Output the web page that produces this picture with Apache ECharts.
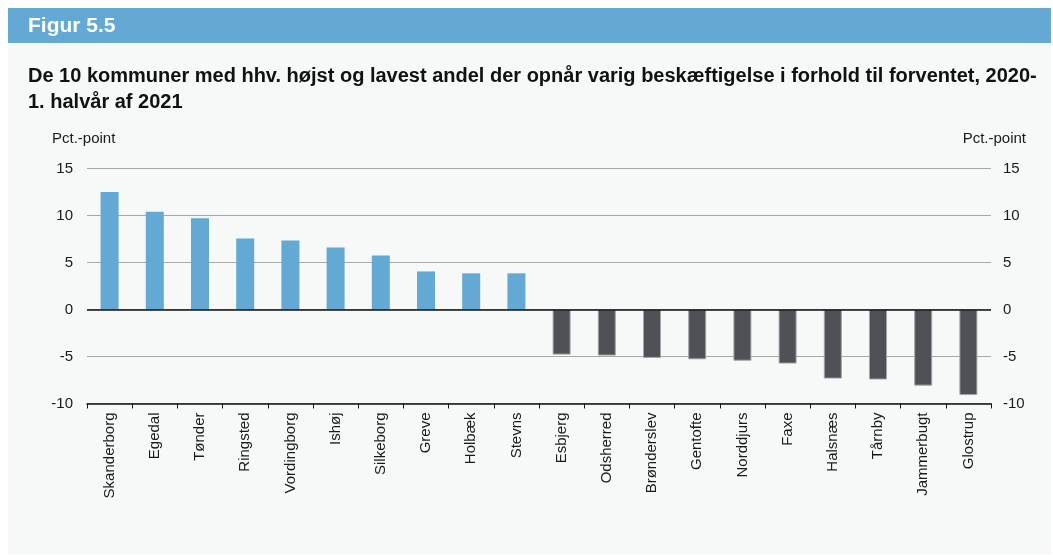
<!DOCTYPE html>
<html>
<head>
<meta charset="utf-8">
<script src="https://cdn.jsdelivr.net/npm/echarts@6/dist/echarts.min.js"></script>
<style>
html,body{margin:0;padding:0;background:#ffffff;}
#chart{width:1053px;height:555px;}
</style>
</head>
<body>
<div id="chart"></div>
<script>
var categories = ['Skanderborg','Egedal','Tønder','Ringsted','Vordingborg','Ishøj','Silkeborg','Greve','Holbæk','Stevns',
  'Esbjerg','Odsherred','Brønderslev','Gentofte','Norddjurs','Faxe','Halsnæs','Tårnby','Jammerbugt','Glostrup'];
var values = [12.5, 10.4, 9.7, 7.55, 7.35, 6.6, 5.75, 4.05, 3.85, 3.85,
  -4.8, -4.9, -5.15, -5.3, -5.45, -5.75, -7.35, -7.45, -8.1, -9.1];
var yTicks = [-10, -5, 0, 5, 10, 15];
var figureLabel = 'Figur 5.5';
var titleText = 'De 10 kommuner med hhv. højst og lavest andel der opnår varig beskæftigelse i forhold til forventet, 2020-\n1. halvår af 2021';
var unitLabel = 'Pct.-point';

var chart = echarts.init(document.getElementById('chart'), null, {renderer:'canvas'});
var font = '"Liberation Sans", Arial, Helvetica, sans-serif';
var barData = values.map(function(v){
  return v >= 0
    ? {value:v, itemStyle:{color:'#63a9d4', borderWidth:0}}
    : {value:v, itemStyle:{color:'#505157', borderColor:'#a3a4a6', borderWidth:1}};
});
var yAxisBase = {
  type:'value', min:yTicks[0], max:yTicks[yTicks.length-1], interval:5,
  axisLine:{show:false}, axisTick:{show:false},
  axisLabel:{color:'#1a1a1a', fontSize:15, fontFamily:font}
};
chart.setOption({
  backgroundColor:'transparent',
  animation:false,
  graphic:[
    {type:'rect', left:8, top:8, shape:{width:1043, height:546}, style:{fill:'#f7f9f9'}, z:-10},
    {type:'rect', left:8, top:8, shape:{width:1043, height:35}, style:{fill:'#63a9d4'}, z:-9},
    {type:'text', left:28, top:16, style:{text:figureLabel, fill:'#ffffff', font:'bold 21px ' + font}},
    {type:'text', left:28, top:64, style:{text:titleText, fill:'#111111', font:'bold 20px ' + font, lineHeight:25.5}},
    {type:'text', left:52, top:131, style:{text:unitLabel, fill:'#1a1a1a', font:'15px ' + font}},
    {type:'text', right:27, top:131, style:{text:unitLabel, fill:'#1a1a1a', font:'15px ' + font}}
  ],
  grid:{left:87, right:62, top:168.5, bottom:151.5, containLabel:false},
  xAxis:{
    type:'category', data:categories,
    axisLine:{show:true, onZero:false, lineStyle:{color:'#111111', width:1.5}},
    axisTick:{show:true, length:5, lineStyle:{color:'#111111'}},
    axisLabel:{rotate:90, color:'#1a1a1a', fontSize:15, fontFamily:font, margin:9, interval:0}
  },
  yAxis:[
    Object.assign({}, yAxisBase, {position:'left', axisLabel:Object.assign({}, yAxisBase.axisLabel, {margin:14}), splitLine:{show:true, lineStyle:{color:'#a8a8a8', width:1}}}),
    Object.assign({}, yAxisBase, {position:'right', axisLabel:Object.assign({}, yAxisBase.axisLabel, {margin:12}), splitLine:{show:false}})
  ],
  series:[{
    type:'bar', data:barData, barWidth:18, yAxisIndex:0,
    markLine:{
      silent:true, symbol:['none','none'], label:{show:false},
      lineStyle:{color:'#111111', width:1.5, type:'solid'},
      data:[{yAxis:0}]
    }
  }]
});
</script>
</body>
</html>
